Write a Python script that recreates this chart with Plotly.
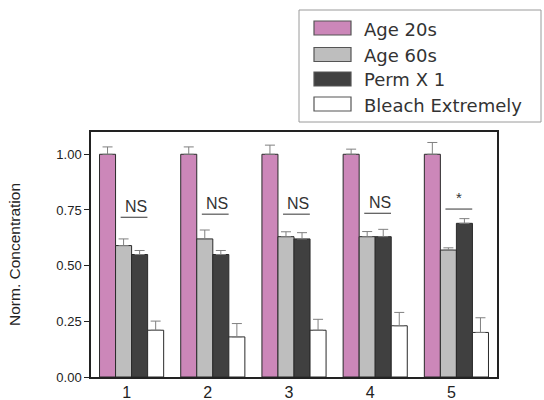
import plotly.graph_objects as go

# Data
groups = ["1", "2", "3", "4", "5"]
series_names = ["Age 20s", "Age 60s", "Perm X 1", "Bleach Extremely"]
series_colors = ["#CC87B9", "#BEBEBE", "#404040", "#FFFFFF"]
means = [
    [1.00, 1.00, 1.00, 1.00, 1.00],
    [0.59, 0.62, 0.63, 0.63, 0.57],
    [0.55, 0.55, 0.62, 0.63, 0.69],
    [0.21, 0.18, 0.21, 0.23, 0.20],
]
errors = [
    [0.033, 0.033, 0.041, 0.023, 0.053],
    [0.030, 0.040, 0.022, 0.023, 0.010],
    [0.018, 0.018, 0.028, 0.033, 0.021],
    [0.041, 0.060, 0.049, 0.060, 0.066],
]
sig_labels = ["NS", "NS", "NS", "NS", "*"]
sig_line_y = [0.717, 0.731, 0.731, 0.735, 0.754]

# Plot area in pixels (figure is 544 x 400)
W, H = 544, 400
L, R, T, B = 91, 47, 132, 23
PW, PH = W - L - R, H - T - B

def px_to_paper(x, y):
    return (x - L) / PW, (H - B - y) / PH

fig = go.Figure()
for name, color, vals, errs in zip(series_names, series_colors, means, errors):
    fig.add_trace(go.Bar(
        x=groups, y=vals, name=name,
        marker=dict(color=color, line=dict(color="#2a2a2a", width=1)),
        error_y=dict(type="data", array=errs, arrayminus=[0] * len(errs),
                     symmetric=False, color="#808080", thickness=1, width=5),
        showlegend=False,
    ))

# significance markers above the Age 60s / Perm X 1 pair
shapes = []
annotations = []
for i, (lab, ly) in enumerate(zip(sig_labels, sig_line_y)):
    shapes.append(dict(type="line", xref="x", yref="y",
                       x0=i - 0.135, x1=i + 0.195, y0=ly, y1=ly,
                       line=dict(color="#555555", width=1.2)))
    if lab == "*":
        annotations.append(dict(x=i + 0.03, y=ly + 0.005, xref="x", yref="y",
                                text=lab, showarrow=False, yanchor="bottom",
                                font=dict(size=15, color="#333333")))
    else:
        annotations.append(dict(x=i + 0.055, y=ly + 0.003, xref="x", yref="y",
                                text=lab, showarrow=False, yanchor="bottom",
                                font=dict(size=16, color="#333333")))

# legend box
bx0, by0 = px_to_paper(299, 10)
bx1, by1 = px_to_paper(541, 122)
shapes.append(dict(type="rect", xref="paper", yref="paper",
                   x0=bx0, x1=bx1, y0=by1, y1=by0,
                   line=dict(color="#9a9a9a", width=1), fillcolor="white"))
row_centers = [28, 54.5, 79, 104]
for name, color, yc in zip(series_names, series_colors, row_centers):
    sx0, sy0 = px_to_paper(314, yc - 7)
    sx1, sy1 = px_to_paper(351, yc + 7)
    shapes.append(dict(type="rect", xref="paper", yref="paper",
                       x0=sx0, x1=sx1, y0=sy1, y1=sy0,
                       line=dict(color="#555555", width=1.2), fillcolor=color))
    tx, ty = px_to_paper(362, yc + 1)
    annotations.append(dict(x=tx, y=ty, xref="paper", yref="paper",
                            text=name, showarrow=False, xanchor="left",
                            yanchor="middle",
                            font=dict(size=18, color="#333333",
                                      family="DejaVu Sans")))

fig.update_layout(
    width=W, height=H,
    margin=dict(l=L, r=R, t=T, b=B, pad=0),
    paper_bgcolor="white", plot_bgcolor="white",
    barmode="group", bargap=0.21, bargroupgap=0,
    font=dict(family="Liberation Sans, Arial, sans-serif", color="#222222"),
    shapes=shapes, annotations=annotations,
    showlegend=False,
)
fig.update_xaxes(
    range=[-0.5, 4.5], showgrid=False, ticks="", showline=True,
    linecolor="#222222", linewidth=1.5, mirror=True,
    tickfont=dict(size=16, color="#222222"), ticklabelshift=-5,
    ticklabelstandoff=0, automargin=False,
)
fig.update_yaxes(
    range=[0, 1.1], tickvals=[0, 0.25, 0.5, 0.75, 1.0],
    ticktext=["0.00", "0.25", "0.50", "0.75", "1.00"],
    showgrid=False, zeroline=False, ticks="outside", ticklen=5,
    tickcolor="#222222", showline=True, linecolor="#222222", linewidth=1.5,
    mirror=True, tickfont=dict(size=13, color="#222222"),
    title=dict(text="Norm. Concentration", font=dict(size=15.5, color="#222222"),
               standoff=32),
    automargin=False,
)

fig.write_html("out.html")
